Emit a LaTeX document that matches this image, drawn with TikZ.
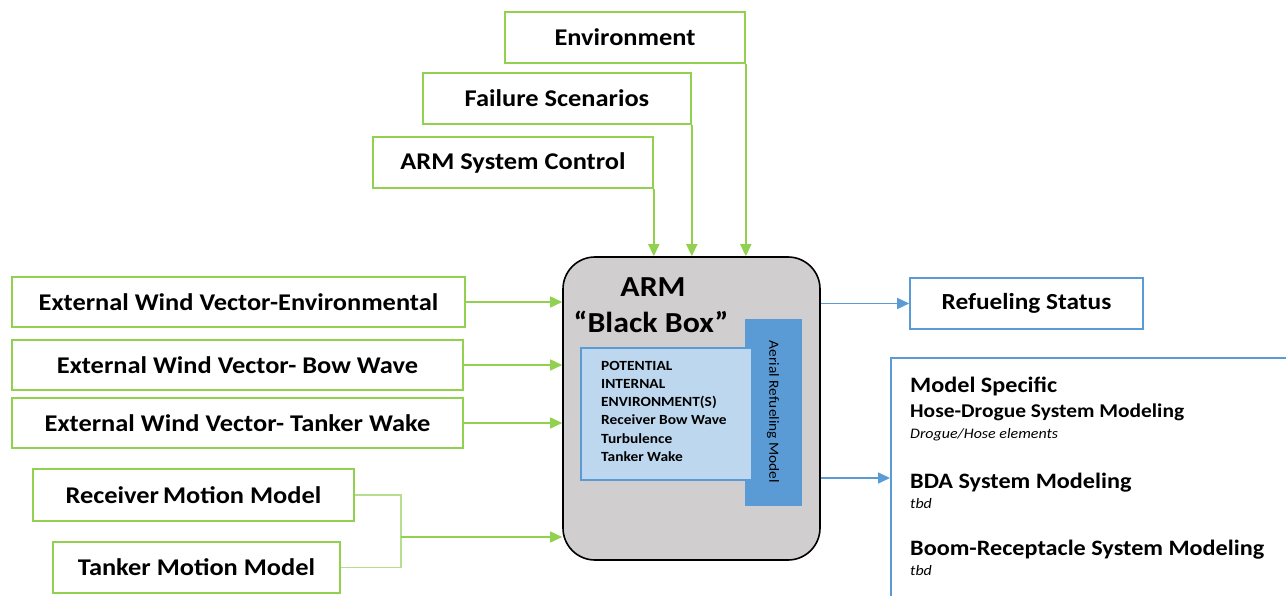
\documentclass[tikz,border=0pt]{standalone}
\usepackage{fontspec}
\setmainfont{Carlito}[FakeStretch=1.1]
\usetikzlibrary{arrows.meta}
\definecolor{lgreen}{HTML}{92D050}
\definecolor{pgreen}{HTML}{B5DF8E}
\definecolor{mblue}{HTML}{5B9BD5}
\definecolor{pblue}{HTML}{BDD7EE}
\definecolor{boxgray}{HTML}{D0CECE}
\tikzset{
  gbox/.style={draw=lgreen, line width=1.6pt, fill=white, inner sep=0pt,
    font=\fontsize{24}{28}\selectfont\bfseries},
  bbox/.style={draw=mblue, line width=1.6pt, fill=white, inner sep=0pt,
    font=\fontsize{23}{27}\selectfont\bfseries},
  garrow/.style={draw=lgreen, line width=1.6pt, -{Triangle[length=12pt,width=11pt]}},
  barrow/.style={draw=mblue, line width=1.6pt, -{Triangle[length=12pt,width=11pt]}},
  feed/.style={draw=pgreen, line width=1.6pt},
  lbl/.style={inner sep=0pt, anchor=base west},
}
\begin{document}
\begin{tikzpicture}[x=1pt,y=-1pt]
\useasboundingbox (0,0) rectangle (1286,596);

% inputs from above
\node[gbox, minimum width=240pt, minimum height=51pt] (env) at (625,37.5) {Environment};
\node[gbox, minimum width=268pt, minimum height=51pt] (fail) at (557,98.5) {Failure Scenarios};
\node[gbox, minimum width=280pt, minimum height=51pt] (ctrl) at (513,162.5) {ARM System Control};

% inputs from the left
\node[gbox, minimum width=453pt, minimum height=50pt] (wenv) at (238.5,302) {External Wind Vector-Environmental};
\node[gbox, minimum width=451pt, minimum height=50pt] (wbow) at (237.5,365) {External Wind Vector- Bow Wave};
\node[gbox, minimum width=451pt, minimum height=50pt] (wwake) at (237.5,423) {External Wind Vector- Tanker Wake};
\node[gbox, minimum width=321pt, minimum height=52pt] (rmm) at (193.5,495) {Receiver\,Motion Model};
\node[gbox, minimum width=287pt, minimum height=51pt] (tmm) at (196.5,567.5) {Tanker Motion Model};

% the ARM black box
\node[draw=black, line width=1.6pt, fill=boxgray, rounded corners=32pt,
      minimum width=257pt, minimum height=303pt, inner sep=0pt] (arm) at (691.5,408.5) {};
\node[inner sep=0pt, font=\fontsize{29}{32}\selectfont\bfseries] (armt) at (653,287) {ARM};
\node[inner sep=0pt, font=\fontsize{29}{32}\selectfont\bfseries] (armbb) at (651,322) {“Black Box”};
\node[fill=mblue, minimum width=57pt, minimum height=187pt, inner sep=0pt] (arm-model) at (773.5,412.5) {};
\node[rotate=-90, inner sep=0pt, font=\fontsize{14}{16}\selectfont] (arm-model-t) at (773,412) {Aerial Refueling Model};
\node[draw=mblue, line width=1.6pt, fill=pblue, minimum width=171pt, minimum height=132pt, inner sep=0pt] (internal) at (666.5,414) {};
\node[inner sep=0pt, anchor=north west, align=left, font=\fontsize{14}{18.2}\selectfont\bfseries] (internal-t) at (601,361)
  {POTENTIAL\\INTERNAL\\ENVIRONMENT(S)\\Receiver Bow Wave\\Turbulence\\Tanker Wake};

% outputs
\node[bbox, minimum width=233pt, minimum height=51pt] (status) at (1026.5,303.5) {Refueling Status};
\node[draw=mblue, line width=1.6pt, fill=white, minimum width=430pt, minimum height=270pt,
      anchor=north west, inner sep=0pt] (spec) at (890,357) {};
\node[lbl, font=\fontsize{22}{24}\selectfont\bfseries] (spec-h) at (910,392) {Model Specific};
\node[lbl, font=\fontsize{19.5}{22}\selectfont\bfseries] (spec-hd) at (910,417) {Hose-Drogue System Modeling};
\node[lbl, font=\fontsize{14.5}{16}\selectfont\itshape] (spec-hd-t) at (910,438) {Drogue/Hose elements};
\node[lbl, font=\fontsize{22}{24}\selectfont\bfseries] (spec-bda) at (910,488) {BDA System Modeling};
\node[lbl, font=\fontsize{14.5}{16}\selectfont\itshape] (spec-bda-t) at (910,508) {tbd};
\node[lbl, font=\fontsize{22}{24}\selectfont\bfseries] (spec-br) at (910,555) {Boom-Receptacle System Modeling};
\node[lbl, font=\fontsize{14.5}{16}\selectfont\itshape] (spec-br-t) at (910,575) {tbd};

% connectors
\draw[garrow] (ctrl.south east) -- (ctrl.south east |- arm.north);
\draw[garrow] (fail.south east) -- (fail.south east |- arm.north);
\draw[garrow] (env.south east) -- (env.south east |- arm.north);
\draw[garrow] (wenv.east) -- (wenv.east -| arm.west);
\draw[garrow] (wbow.east) -- (wbow.east -| arm.west);
\draw[garrow] (wwake.east) -- (wwake.east -| arm.west);
\coordinate (join) at (401,537);
\draw[feed] (rmm.east) -| (join) |- (tmm.east);
\draw[garrow] (join) -- (join -| arm.west);
\draw[barrow] (arm.east |- status.west) -- (status.west);
\coordinate (specin) at (890,478);
\draw[barrow] (specin -| arm.east) -- (specin);
\end{tikzpicture}
\end{document}
